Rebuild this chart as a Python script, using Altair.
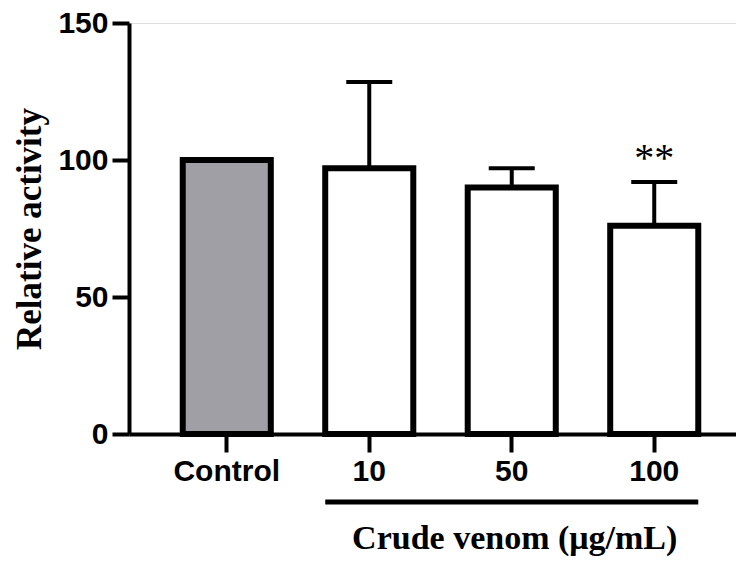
import altair as alt
import pandas as pd

categories = ["Control", "10", "50", "100"]
values = [100, 97, 90, 76]
upper = [100, 128.5, 97, 92]
stars = ["", "", "", "**"]
fills = ["#a09fa5", "#ffffff", "#ffffff", "#ffffff"]

df = pd.DataFrame({"cat": categories, "value": values, "upper": upper,
                   "star": stars, "fill": fills})

xscale = alt.Scale(domain=categories, paddingInner=0.382, paddingOuter=0.321, align=0.5875)
xenc = alt.X("cat:N", scale=xscale, sort=categories,
             axis=alt.Axis(title=None, labelAngle=0, labelFont="Liberation Sans",
                           labelFontWeight="bold", labelFontSize=30, labelColor="black",
                           labelPadding=4, tickSize=18, tickWidth=4, tickColor="black",
                           domainWidth=4, domainColor="black", grid=False))
yscale = alt.Scale(domain=[0, 150], nice=False, zero=True)
yenc = alt.Y("value:Q", scale=yscale,
             axis=alt.Axis(title="Relative activity", values=[0, 50, 100, 150],
                           titleFont="Liberation Serif", titleFontSize=35, titleFontWeight="bold",
                           titleColor="black", titlePadding=10,
                           labelFont="Liberation Sans", labelFontWeight="bold", labelFontSize=30,
                           labelColor="black", labelPadding=4, tickSize=17, tickWidth=4,
                           tickColor="black", domainWidth=4, domainColor="black", grid=False))

base = alt.Chart(df)

bars = base.mark_bar(stroke="black", strokeWidth=6, strokeJoin="miter").encode(
    x=xenc, y=yenc, fill=alt.Fill("fill:N", scale=None))

err = base.transform_filter("datum.upper > datum.value").mark_rule(
    color="black", strokeWidth=4, opacity=1).encode(x="cat:N", y="value:Q", y2="upper:Q")

caps = base.transform_filter("datum.upper > datum.value").mark_tick(
    color="black", thickness=4, size=46, orient="horizontal", opacity=1).encode(
    x="cat:N", y="upper:Q")

ann = base.mark_text(font="Liberation Serif", fontSize=40, color="black",
                     baseline="alphabetic", dy=-11).encode(
    x="cat:N", y="upper:Q", text="star:N")

title_df = pd.DataFrame({"start": ["10"], "end": ["100"], "mid": ["50"],
                         "label": ["Crude venom (μg/mL)"]})
tbase = alt.Chart(title_df)
underline = tbase.mark_rule(color="black", strokeWidth=5).encode(
    x=alt.X("start:N", bandPosition=0), x2=alt.X2("end:N", bandPosition=1), y=alt.value(479))
xtitle = tbase.mark_text(font="Liberation Serif", fontSize=34, fontWeight="bold",
                         color="black", baseline="alphabetic", dx=3).encode(
    x="mid:N", y=alt.value(526), text="label:N")

chart = alt.layer(bars, err, caps, ann, underline, xtitle).properties(
    width=607, height=411,
    autosize=alt.AutoSizeParams(type="none"),
    padding={"left": 121, "top": 15, "right": 0, "bottom": 124},
).configure_view(stroke=None).configure(background="white")

chart.save("out.html", embed_options={"renderer": "svg", "actions": False})
